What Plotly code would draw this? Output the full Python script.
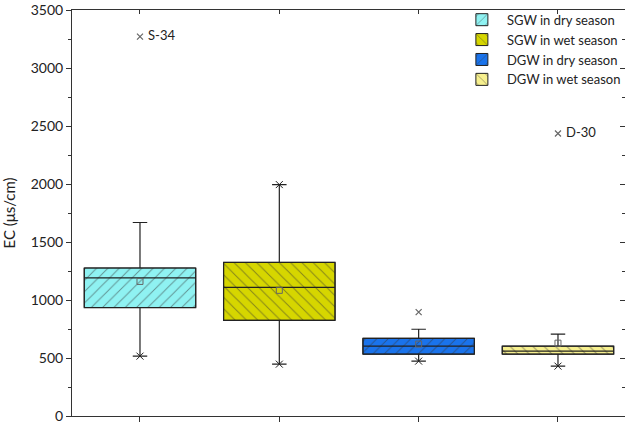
import plotly.graph_objects as go

categories = ["SGW in dry season", "SGW in wet season", "DGW in dry season", "DGW in wet season"]
q1 = [935, 825, 533, 533]
median = [1190, 1109, 602, 559]
q3 = [1276, 1324, 670, 602]
lower_whisker = [516, 447, 473, 430]
upper_whisker = [1668, 1995, 748, 705]
means = [1160, 1083, 620, 628]
fill_colors = ["#8FF2F2", "#D6D600", "#1A73EB", "#F7F08E"]
patterns = ["/", "\\", "/", "\\"]

# min / max markers (x) drawn at whisker ends
minmax_cat = [categories[0], categories[1], categories[1], categories[2], categories[3]]
minmax_val = [516, 447, 1995, 473, 430]

# outliers
outlier_cat = [categories[0], categories[2], categories[3]]
outlier_val = [3270, 895, 2435]
outlier_label = [" S-34", "", " D-30"]

yticks = [0, 500, 1000, 1500, 2000, 2500, 3000, 3500]
FONT = "Lato"

fig = go.Figure()

for i, c in enumerate(categories):
    fig.add_trace(go.Bar(
        x=[c], y=[q3[i] - q1[i]], base=[q1[i]], width=0.8, name=c,
        marker=dict(color=fill_colors[i], line=dict(color="#222", width=1),
                    pattern=dict(shape=patterns[i], fillmode="overlay", fgcolor="#333",
                                 bgcolor=fill_colors[i], size=8, solidity=0.12)),
        showlegend=True, hoverinfo="skip"))

for i, c in enumerate(categories):
    fig.add_trace(go.Box(
        x=[c], q1=[q1[i]], median=[median[i]], q3=[q3[i]],
        lowerfence=[lower_whisker[i]], upperfence=[upper_whisker[i]],
        width=0.8, whiskerwidth=0.13, fillcolor="rgba(0,0,0,0)",
        line=dict(color="#222", width=1.2), showlegend=False, boxpoints=False))

fig.add_trace(go.Scatter(
    x=categories, y=means, mode="markers", showlegend=False, hoverinfo="skip",
    marker=dict(symbol="square-open", size=6, color="#666", line=dict(width=1))))

fig.add_trace(go.Scatter(
    x=minmax_cat, y=minmax_val, mode="markers", showlegend=False, hoverinfo="skip",
    marker=dict(symbol="x-thin-open", size=7, color="#222", line=dict(width=1))))

fig.add_trace(go.Scatter(
    x=outlier_cat, y=outlier_val, mode="markers+text", showlegend=False,
    text=outlier_label, textposition="middle right",
    textfont=dict(family=FONT, size=13, color="#222"),
    marker=dict(symbol="x-thin-open", size=6, color="#666", line=dict(width=1.2))))

# invisible trace to host the mirrored (inward-tick) top/right axes
fig.add_trace(go.Scatter(x=[0], y=[0], xaxis="x2", yaxis="y2", mode="markers",
                         marker=dict(opacity=0), showlegend=False, hoverinfo="skip"))

fig.update_layout(
    width=625, height=426,
    margin=dict(l=72, r=0, t=10, b=10, autoexpand=False),
    paper_bgcolor="white", plot_bgcolor="white",
    barmode="overlay", boxmode="overlay",
    font=dict(family=FONT, size=14, color="#222"),
    legend=dict(x=0.696, y=1.013, xanchor="left", yanchor="top",
                bgcolor="rgba(0,0,0,0)", font=dict(family=FONT, size=13),
                tracegroupgap=0, itemwidth=40),
    xaxis=dict(range=[-0.488, 3.481], showticklabels=False, showline=True,
               linecolor="#333", linewidth=1, mirror=True,
               ticks="outside", ticklen=5, tickcolor="#333", showgrid=False,
               zeroline=False),
    yaxis=dict(range=[0, 3500], tickvals=yticks,
               showline=True, linecolor="#333", linewidth=1, mirror=False,
               ticks="outside", ticklen=5, tickcolor="#333", showgrid=False,
               zeroline=False,
               minor=dict(dtick=250, ticks="outside", ticklen=3, tickcolor="#333"),
               title=dict(text="EC (μs/cm)", font=dict(family=FONT, size=15), standoff=13)),
    xaxis2=dict(overlaying="x", side="top", range=[-0.488, 3.481], tickvals=[0, 1, 2, 3],
                showticklabels=False, ticks="inside", ticklen=4, tickcolor="#333",
                showline=False, showgrid=False, zeroline=False),
    yaxis2=dict(overlaying="y", side="right", range=[0, 3500], tickvals=yticks,
                showticklabels=False, ticks="inside", ticklen=5, tickcolor="#333",
                minor=dict(dtick=250, ticks="inside", ticklen=3, tickcolor="#333"),
                showline=False, showgrid=False, zeroline=False),
)

fig.write_html("out.html", config={"displayModeBar": False},
               post_script="document.body.style.margin='0';")
